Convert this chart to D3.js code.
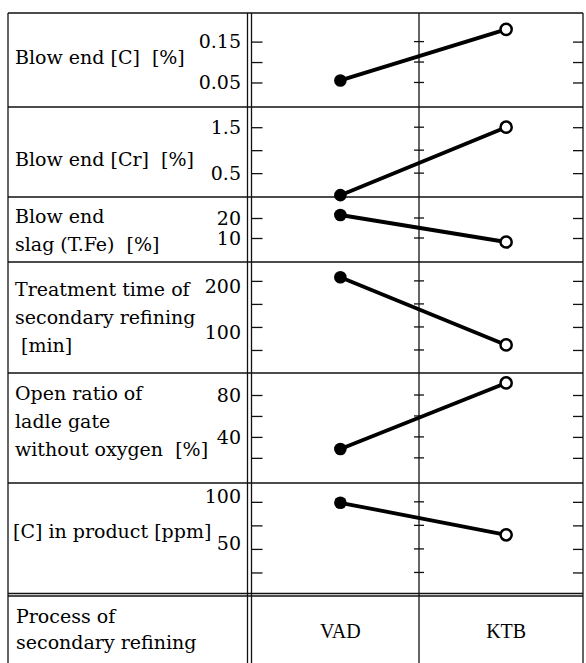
<!DOCTYPE html>
<html>
<head>
<meta charset="utf-8">
<script src="https://cdn.jsdelivr.net/npm/d3@7"></script>
<style>
  html, body { margin: 0; padding: 0; background: #fff; }
  svg { display: block; }
  text { font-family: "DejaVu Serif", serif; fill: #000; }
</style>
</head>
<body>
<svg id="chart" width="586" height="663"></svg>
<script>
// ---------------- DATA ----------------
const processes = ["VAD", "KTB"];
const panelLabels = [
  ["Blow end [C]  [%]"],
  ["Blow end [Cr]  [%]"],
  ["Blow end", "slag (T.Fe)  [%]"],
  ["Treatment time of", "secondary refining", " [min]"],
  ["Open ratio of", "ladle gate", "without oxygen  [%]"],
  ["[C] in product [ppm]"]
];
const vadValues = [0.055, 0.02, 21.5, 208, 28.5, 99];
const ktbValues = [0.18, 1.5, 8, 61, 91.5, 65];
const axisDomains = [[-0.01, 0.22], [-0.02, 1.94], [-2, 30.5], [0, 241], [-4, 101], [0, 120]];
const tickValues = [
  [0.05, 0.10, 0.15],
  [0.5, 1.0, 1.5],
  [10, 20],
  [50, 100, 150, 200],
  [20, 40, 60, 80],
  [25, 50, 75, 100]
];
const tickLabels = [
  ["0.05", "0.15"],
  ["0.5", "1.5"],
  ["10", "20"],
  ["100", "200"],
  ["40", "80"],
  ["50", "100"]
];
const footerLabel = ["Process of", "secondary refining"];

// ---------------- LAYOUT ----------------
const W = 586, H = 663;
const xL = 8, xR = 583, xAxis1 = 247.5, xAxis2 = 251.5, xMid = 419;
const rowEdges = [13, 107, 197, 262, 373, 483, 596];
const labelX = [15, 15, 15, 15, 15, 13];
const labelFirstBaseline = [64, 166, 223, 296, 400, 538];
const labelLineH = 28;
const tickLabelShift = [0, 0, 0, 5, 0, -6];
const fontSize = 19;
const lineW = 1.3;

const svg = d3.select("#chart");
const g = svg.append("g");

const x = d3.scalePoint().domain(processes).range([xAxis2 + 6, xR + 6]).padding(0.5);

// Frame lines
const frame = g.append("g").attr("stroke", "#111").attr("stroke-width", lineW).attr("fill", "none");
frame.append("line").attr("x1", xL).attr("x2", xR).attr("y1", rowEdges[0]).attr("y2", rowEdges[0]);
[xL, xAxis1, xAxis2, xMid, xR].forEach(xx => {
  frame.append("line").attr("x1", xx).attr("x2", xx).attr("y1", rowEdges[0]).attr("y2", H);
});
rowEdges.slice(1).forEach((yy, i) => {
  frame.append("line").attr("x1", xL).attr("x2", xR).attr("y1", yy).attr("y2", yy);
  if (i === rowEdges.length - 2) {
    frame.append("line").attr("x1", xL).attr("x2", xR).attr("y1", yy - 2.5).attr("y2", yy - 2.5);
  }
});

// Panels
panelLabels.forEach((lines, i) => {
  const top = rowEdges[i], bottom = rowEdges[i + 1];
  const y = d3.scaleLinear().domain(axisDomains[i]).range([bottom, top]);
  const pg = g.append("g");

  // left-axis tick marks (inward)
  const leftAxis = d3.axisRight(y).tickValues(tickValues[i]).tickSize(11).tickFormat("");
  pg.append("g").attr("transform", `translate(${xAxis2},0)`).call(leftAxis)
    .call(s => s.select(".domain").remove())
    .call(s => s.selectAll(".tick line").attr("stroke", "#111").attr("stroke-width", lineW));

  // right-axis tick marks (inward)
  const rightAxis = d3.axisLeft(y).tickValues(tickValues[i]).tickSize(10).tickFormat("");
  pg.append("g").attr("transform", `translate(${xR},0)`).call(rightAxis)
    .call(s => s.select(".domain").remove())
    .call(s => s.selectAll(".tick line").attr("stroke", "#111").attr("stroke-width", lineW));

  // middle crossing ticks
  pg.append("g").selectAll("line").data(tickValues[i]).join("line")
    .attr("x1", xMid - 5).attr("x2", xMid + 5)
    .attr("y1", d => y(d)).attr("y2", d => y(d))
    .attr("stroke", "#111").attr("stroke-width", lineW);

  // tick labels
  pg.append("g").selectAll("text").data(tickLabels[i]).join("text")
    .attr("x", 241)
    .attr("y", d => y(+d) + tickLabelShift[i])
    .attr("dy", "0.36em")
    .attr("text-anchor", "end")
    .attr("font-size", fontSize)
    .text(d => d);

  // panel label
  pg.append("g").selectAll("text").data(lines).join("text")
    .attr("x", labelX[i])
    .attr("y", (d, k) => labelFirstBaseline[i] + k * labelLineH)
    .attr("font-size", fontSize)
    .style("white-space", "pre")
    .text(d => d);

  // connecting line
  const pts = [[processes[0], vadValues[i]], [processes[1], ktbValues[i]]];
  pg.append("path")
    .attr("d", d3.line().x(d => x(d[0])).y(d => y(d[1]))(pts))
    .attr("stroke", "#000").attr("stroke-width", 3.8).attr("fill", "none");

  // markers
  pg.append("circle").attr("cx", x(processes[0])).attr("cy", y(vadValues[i]))
    .attr("r", 6.3).attr("fill", "#000");
  pg.append("circle").attr("cx", x(processes[1])).attr("cy", y(ktbValues[i]))
    .attr("r", 5.6).attr("fill", "#fff").attr("stroke", "#000").attr("stroke-width", 2.5);
});

// Footer row
const footTop = rowEdges[rowEdges.length - 1];
g.append("g").selectAll("text").data(footerLabel).join("text")
  .attr("x", 16)
  .attr("y", (d, k) => footTop + 27 + k * 26)
  .attr("font-size", fontSize)
  .text(d => d);

g.append("g").selectAll("text").data(processes).join("text")
  .attr("x", d => x(d))
  .attr("y", footTop + 42)
  .attr("text-anchor", "middle")
  .style("font-family", "'Liberation Serif', serif")
  .attr("font-size", 20)
  .text(d => d);
</script>
</body>
</html>
